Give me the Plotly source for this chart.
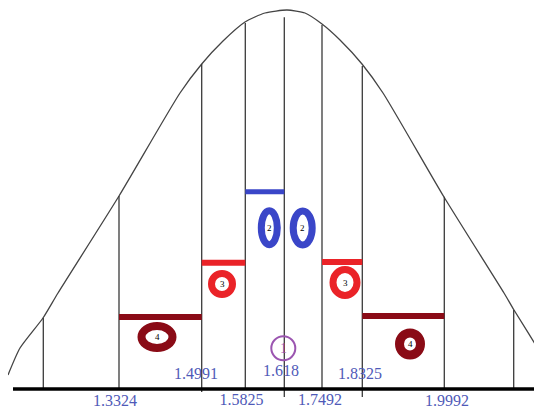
import plotly.graph_objects as go

# ---- data ----
# cut lines: horizontal position (centre = 0) and height where they meet the curve
cut_x = [-2.41, -1.653, -0.826, -0.39, 0.0, 0.377, 0.78, 1.60, 2.294]
cut_top = [0.713, 1.93, 3.25, 3.66, 3.717, 3.64, 3.23, 1.923, 0.79]
cut_bottom = [0.0, 0.0, -0.03, 0.0, -0.08, 0.0, -0.08, 0.0, 0.0]

# bell curve points
curve_x = [-2.763, -2.643, -2.413, -2.263, -1.653, -1.043, -0.826, -0.613, -0.393,
           -0.193, 0.027, 0.207, 0.377, 0.557, 0.777, 0.987, 1.597, 2.197, 2.297,
           2.577, 2.717]
curve_y = [0.14, 0.41, 0.71, 0.96, 1.93, 2.96, 3.25, 3.48, 3.67,
           3.76, 3.79, 3.76, 3.65, 3.49, 3.25, 2.96, 1.92, 0.96, 0.79,
           0.34, 0.11]

# value labels and the lines they mark
value_labels = ["1.3324", "1.4991", "1.5825", "1.618", "1.7492", "1.8325", "1.9992"]
label_x = [-1.693, -0.883, -0.428, -0.033, 0.357, 0.757, 1.627]
label_y = [-0.13, 0.14, -0.12, 0.17, -0.12, 0.14, -0.13]

# horizontal bars between cut lines (index of left cut line) and their level
bar_start = [3, 2, 5, 1, 6]
bar_level = [1.973, 1.263, 1.27, 0.72, 0.73]
bar_color = ["#3a46c8", "#ea2328", "#ea2328", "#8a0b16", "#8a0b16"]
bar_width = [5, 6, 6, 6, 6]

# ring markers: label, centre, half-width, half-height, stroke, colour
ring_label = ["2", "2", "3", "3", "4", "4", "1"]
ring_cx = [-0.15, 0.184, -0.623, 0.607, -1.273, 1.257, -0.01]
ring_cy = [1.613, 1.61, 1.05, 1.065, 0.52, 0.45, 0.407]
ring_rx = [0.08, 0.095, 0.105, 0.12, 0.155, 0.105, 0.12]
ring_ry = [0.17, 0.17, 0.105, 0.13, 0.11, 0.11, 0.12]
ring_lw = [7, 7, 7, 7, 8, 9, 2]
ring_color = ["#3a46c8", "#3a46c8", "#ea2328", "#ea2328", "#8a0b16", "#8a0b16", "#9b55b0"]

fig = go.Figure()

# bell curve
fig.add_trace(go.Scatter(x=curve_x, y=curve_y, mode="lines", line_shape="spline",
                         line=dict(color="#444444", width=1.3, smoothing=0.6),
                         hoverinfo="skip"))

# vertical cut lines
vx, vy = [], []
for x, t, b in zip(cut_x, cut_top, cut_bottom):
    vx += [x, x, None]
    vy += [b, t, None]
fig.add_trace(go.Scatter(x=vx, y=vy, mode="lines",
                         line=dict(color="#3a3a3a", width=1.3), hoverinfo="skip"))

# baseline
fig.add_trace(go.Scatter(x=[-2.713, 2.577], y=[0, 0], mode="lines",
                         line=dict(color="black", width=3.5), hoverinfo="skip"))

# coloured bars
for s, lv, c, w in zip(bar_start, bar_level, bar_color, bar_width):
    fig.add_trace(go.Scatter(x=[cut_x[s], cut_x[s + 1]], y=[lv, lv], mode="lines",
                             line=dict(color=c, width=w), hoverinfo="skip"))

# rings
for lab, cx, cy, rx, ry, lw, c in zip(ring_label, ring_cx, ring_cy, ring_rx, ring_ry, ring_lw, ring_color):
    fig.add_shape(type="circle", xref="x", yref="y", x0=cx - rx, x1=cx + rx,
                  y0=cy - ry, y1=cy + ry, line=dict(color=c, width=lw))
    if lab == "1":
        fig.add_annotation(x=cx, y=cy, text=lab, showarrow=False,
                           font=dict(family="Liberation Serif", size=14, color=c))
    else:
        fig.add_annotation(x=cx, y=cy, text=lab, showarrow=False,
                           font=dict(family="Liberation Serif", size=9, color="black"))

# value labels
fig.add_trace(go.Scatter(x=label_x, y=label_y, mode="text", text=value_labels,
                         textfont=dict(family="Liberation Serif", size=16, color="#4f5ab8"),
                         hoverinfo="skip"))

# the page has an 8px body margin, so the figure covers screen pixels 8..542 x 8..408
fig.update_layout(width=534, height=400, margin=dict(l=0, r=0, t=0, b=0),
                  paper_bgcolor="white", plot_bgcolor="white", showlegend=False)
fig.update_xaxes(range=[-2.763, 2.577], visible=False)
fig.update_yaxes(range=[-0.19, 3.81], visible=False)

fig.write_html("out.html")
